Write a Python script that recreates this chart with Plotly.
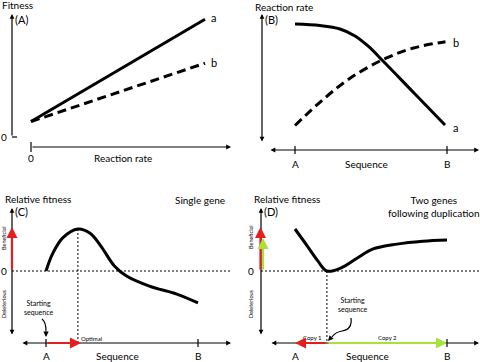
import plotly.graph_objects as go

W, H = 480, 362
FONT = "Lato"
RED = "#e41e1e"
GREEN = "#a8e03c"

# ---------------- data ----------------
# (A) fitness vs reaction rate
rate_A = [0.0, 1.0]
fitness_a_A = [0.13, 0.99]
fitness_b_A = [0.13, 0.62]

# (B) reaction rate vs sequence (A=0, B=1)
seq_B_a = [0.0, 0.164, 0.296, 0.395, 0.48, 0.579, 0.783, 0.987]
rate_B_a = [0.929, 0.917, 0.890, 0.835, 0.756, 0.638, 0.386, 0.134]
seq_B_b = [0.0, 0.18, 0.36, 0.58, 0.78, 0.99]
rate_B_b = [0.13, 0.33, 0.50, 0.65, 0.74, 0.79]

# (C) single gene relative fitness vs sequence
seq_C = [0.0, 0.046, 0.11, 0.21, 0.29, 0.36, 0.45, 0.53, 0.68, 0.86, 1.0]
fit_C = [0.0, 0.43, 0.79, 1.0, 0.90, 0.60, 0.12, -0.12, -0.36, -0.55, -0.76]
optimal_C = 0.21

# (D) two genes following duplication
seq_D = [0.0, 0.08, 0.15, 0.21, 0.30, 0.41, 0.51, 0.67, 0.84, 1.0]
fit_D = [1.0, 0.60, 0.24, 0.0, 0.07, 0.31, 0.52, 0.64, 0.71, 0.74]
start_D = 0.21

# ---------------- panel geometry (pixel boxes and scales) ----------------
panels = [
    dict(box=(0, 0, 240, 181), ox=31, sx=174, oy=137, sy=119),
    dict(box=(240, 0, 480, 181), ox=295, sx=152, oy=142, sy=127),
    dict(box=(0, 181, 240, 362), ox=46, sx=152, oy=271, sy=42),
    dict(box=(240, 181, 480, 362), ox=295, sx=152, oy=271, sy=42),
]

layout = dict(width=W, height=H, margin=dict(l=0, r=0, t=0, b=0),
              paper_bgcolor="white", plot_bgcolor="white", showlegend=False)
for i, p in enumerate(panels):
    x0, y0, x1, y1 = p["box"]
    sfx = "" if i == 0 else str(i + 1)
    layout["xaxis" + sfx] = dict(domain=[x0 / W, x1 / W],
                                 range=[(x0 - p["ox"]) / p["sx"], (x1 - p["ox"]) / p["sx"]],
                                 visible=False, anchor="y" + sfx, fixedrange=True)
    layout["yaxis" + sfx] = dict(domain=[1 - y1 / H, 1 - y0 / H],
                                 range=[(p["oy"] - y1) / p["sy"], (p["oy"] - y0) / p["sy"]],
                                 visible=False, anchor="x" + sfx, fixedrange=True)

fig = go.Figure()
solid = dict(color="black", width=3)
dashed = dict(color="black", width=3, dash="9px,5px")

fig.add_trace(go.Scatter(x=rate_A, y=fitness_a_A, mode="lines", line=solid, xaxis="x", yaxis="y", cliponaxis=False))
fig.add_trace(go.Scatter(x=rate_A, y=fitness_b_A, mode="lines", line=dashed, xaxis="x", yaxis="y", cliponaxis=False))
fig.add_trace(go.Scatter(x=seq_B_a, y=rate_B_a, mode="lines", line=dict(solid, shape="spline"), xaxis="x2", yaxis="y2", cliponaxis=False))
fig.add_trace(go.Scatter(x=seq_B_b, y=rate_B_b, mode="lines", line=dict(dashed, shape="spline"), xaxis="x2", yaxis="y2", cliponaxis=False))
fig.add_trace(go.Scatter(x=seq_C, y=fit_C, mode="lines", line=dict(solid, shape="spline"), xaxis="x3", yaxis="y3", cliponaxis=False))
fig.add_trace(go.Scatter(x=seq_D, y=fit_D, mode="lines", line=dict(solid, shape="spline"), xaxis="x4", yaxis="y4", cliponaxis=False))

# ---------------- helpers ----------------
def PX(x):
    return x / W

def PY(y):
    return 1 - y / H

def txt(s, x, y, size=10, anchor="center", angle=0):
    return dict(text=s, x=PX(x), y=PY(y), xref="paper", yref="paper", showarrow=False,
                xanchor=anchor, yanchor="middle", textangle=angle,
                font=dict(family=FONT, size=size, color="#000000"))

def arr(x0, y0, x1, y1, color="black", w=1.2, size=0.8, head=2, both=False):
    d = dict(x=PX(x1), y=PY(y1), xref="paper", yref="paper", ax=x0 - x1, ay=y0 - y1,
             axref="pixel", ayref="pixel", text="", showarrow=True, arrowhead=head,
             arrowsize=size, arrowwidth=w, arrowcolor=color, standoff=0)
    if both:
        d.update(arrowside="end+start", startarrowhead=head, startarrowsize=size, startstandoff=0)
    return d

def seg(x0, y0, x1, y1, color="black", w=1.2, dash="solid"):
    return dict(type="line", xref="paper", yref="paper", x0=PX(x0), y0=PY(y0), x1=PX(x1), y1=PY(y1),
                line=dict(color=color, width=w, dash=dash))

def curve(pts, color="black", w=1.2):
    s = ""
    for cmd, coords in pts:
        s += cmd + " " + " ".join(f"{PX(x):.5f},{PY(y):.5f}" for x, y in coords) + " "
    return dict(type="path", xref="paper", yref="paper", path=s.strip(),
                line=dict(color=color, width=w))

ann = []
shapes = []

# ---------------- Panel A ----------------
ann += [txt("Fitness", 0, 5, anchor="left"), txt("(A)", 13, 19, size=11, anchor="left"),
        txt("0", 4, 137), txt("0", 31, 158), txt("Reaction rate", 123, 158),
        txt("a", 209, 18, size=11, anchor="left"), txt("b", 209, 62, size=11, anchor="left")]
ann += [arr(12, 137, 12, 14), arr(31, 147, 231, 147)]
shapes += [seg(12, 137, 17, 137), seg(31, 142, 31, 152)]

# ---------------- Panel B ----------------
ann += [txt("Reaction rate", 253, 7, anchor="left"), txt("(B)", 263, 19, size=11, anchor="left"),
        txt("A", 295, 164), txt("Sequence", 366, 164), txt("B", 447, 164),
        txt("a", 451, 127, size=11, anchor="left"), txt("b", 451, 42, size=11, anchor="left")]
ann += [arr(262, 143, 262, 14, both=True), arr(269, 150, 479, 150, both=True)]
shapes += [seg(295, 146, 295, 154), seg(447, 146, 447, 154)]

# ---------------- Panel C ----------------
pC = panels[2]
axis_C = (pC["oy"] - 343) / pC["sy"]
shapes += [seg(12, 271, 231, 271, w=1, dash="2px,2px"),
           dict(type="line", xref="x3", yref="y3", x0=optimal_C, x1=optimal_C,
                y0=max(fit_C), y1=axis_C, line=dict(color="black", width=1, dash="2px,2px"))]
ann += [txt("Relative fitness", 3, 199, anchor="left"), txt("(C)", 13, 212, size=11, anchor="left"),
        txt("Single gene", 200, 200), txt("0", 4, 271),
        txt("Beneficial", 4, 238, size=5.5, angle=-90), txt("Deleterious", 4, 304, size=5.5, angle=-90),
        txt("Starting<br>sequence", 38, 307, size=7), txt("Optimal", 91, 338, size=6),
        txt("A", 46, 356), txt("Sequence", 117, 356), txt("B", 198, 356)]
ann += [arr(12, 336, 12, 208, both=True), arr(21, 343, 231, 343, both=True),
        arr(12, 271, 12, 227, color=RED, w=2.2, size=1),
        arr(46, 343, 81, 343, color=RED, w=2.2, size=1)]
shapes += [seg(46, 339, 46, 347), seg(198, 339, 198, 347)]
shapes += [curve([("M", [(42, 319)]), ("Q", [(46, 322), (46, 331)])])]
ann += [arr(46, 330, 46, 337, size=0.9)]

# ---------------- Panel D ----------------
pD = panels[3]
axis_D = (pD["oy"] - 343) / pD["sy"]
shapes += [seg(261, 271, 480, 271, w=1, dash="2px,2px"),
           dict(type="line", xref="x4", yref="y4", x0=start_D, x1=start_D,
                y0=min(fit_D), y1=axis_D, line=dict(color="black", width=1, dash="2px,2px"))]
ann += [txt("Relative fitness", 252, 199, anchor="left"), txt("(D)", 262, 212, size=11, anchor="left"),
        txt("Two genes<br>following duplication", 434, 206), txt("0", 251, 271),
        txt("Beneficial", 251, 237, size=5.5, angle=-90), txt("Deleterious", 251, 304, size=5.5, angle=-90),
        txt("Starting<br>sequence", 352, 304, size=7),
        txt("Copy 1", 312, 337, size=6), txt("Copy 2", 387, 337, size=6),
        txt("A", 295, 356), txt("Sequence", 367, 356), txt("B", 447, 356)]
ann += [arr(261, 336, 261, 208, both=True), arr(270, 343, 479, 343, both=True),
        arr(260.5, 271, 260.5, 227, color=RED, w=2.2, size=1),
        arr(263, 271, 263, 238, color=GREEN, w=2.2, size=1),
        arr(327, 343, 295, 343, color=RED, w=2.2, size=1),
        arr(327, 343, 447, 343, color=GREEN, w=2.2, size=1)]
shapes += [seg(447, 339, 447, 347)]
shapes += [curve([("M", [(351, 318)]), ("C", [(352, 326), (349, 330), (342, 331)]),
                  ("C", [(337, 332), (334, 334), (332, 337)])])]
ann += [arr(332, 336.5, 328, 341, size=0.9)]

layout["annotations"] = ann
layout["shapes"] = shapes
fig.update_layout(**layout)
fig.write_html("out.html", config={"displayModeBar": False, "staticPlot": True},
               post_script="document.body.style.margin='0';document.body.style.overflow='hidden';")
